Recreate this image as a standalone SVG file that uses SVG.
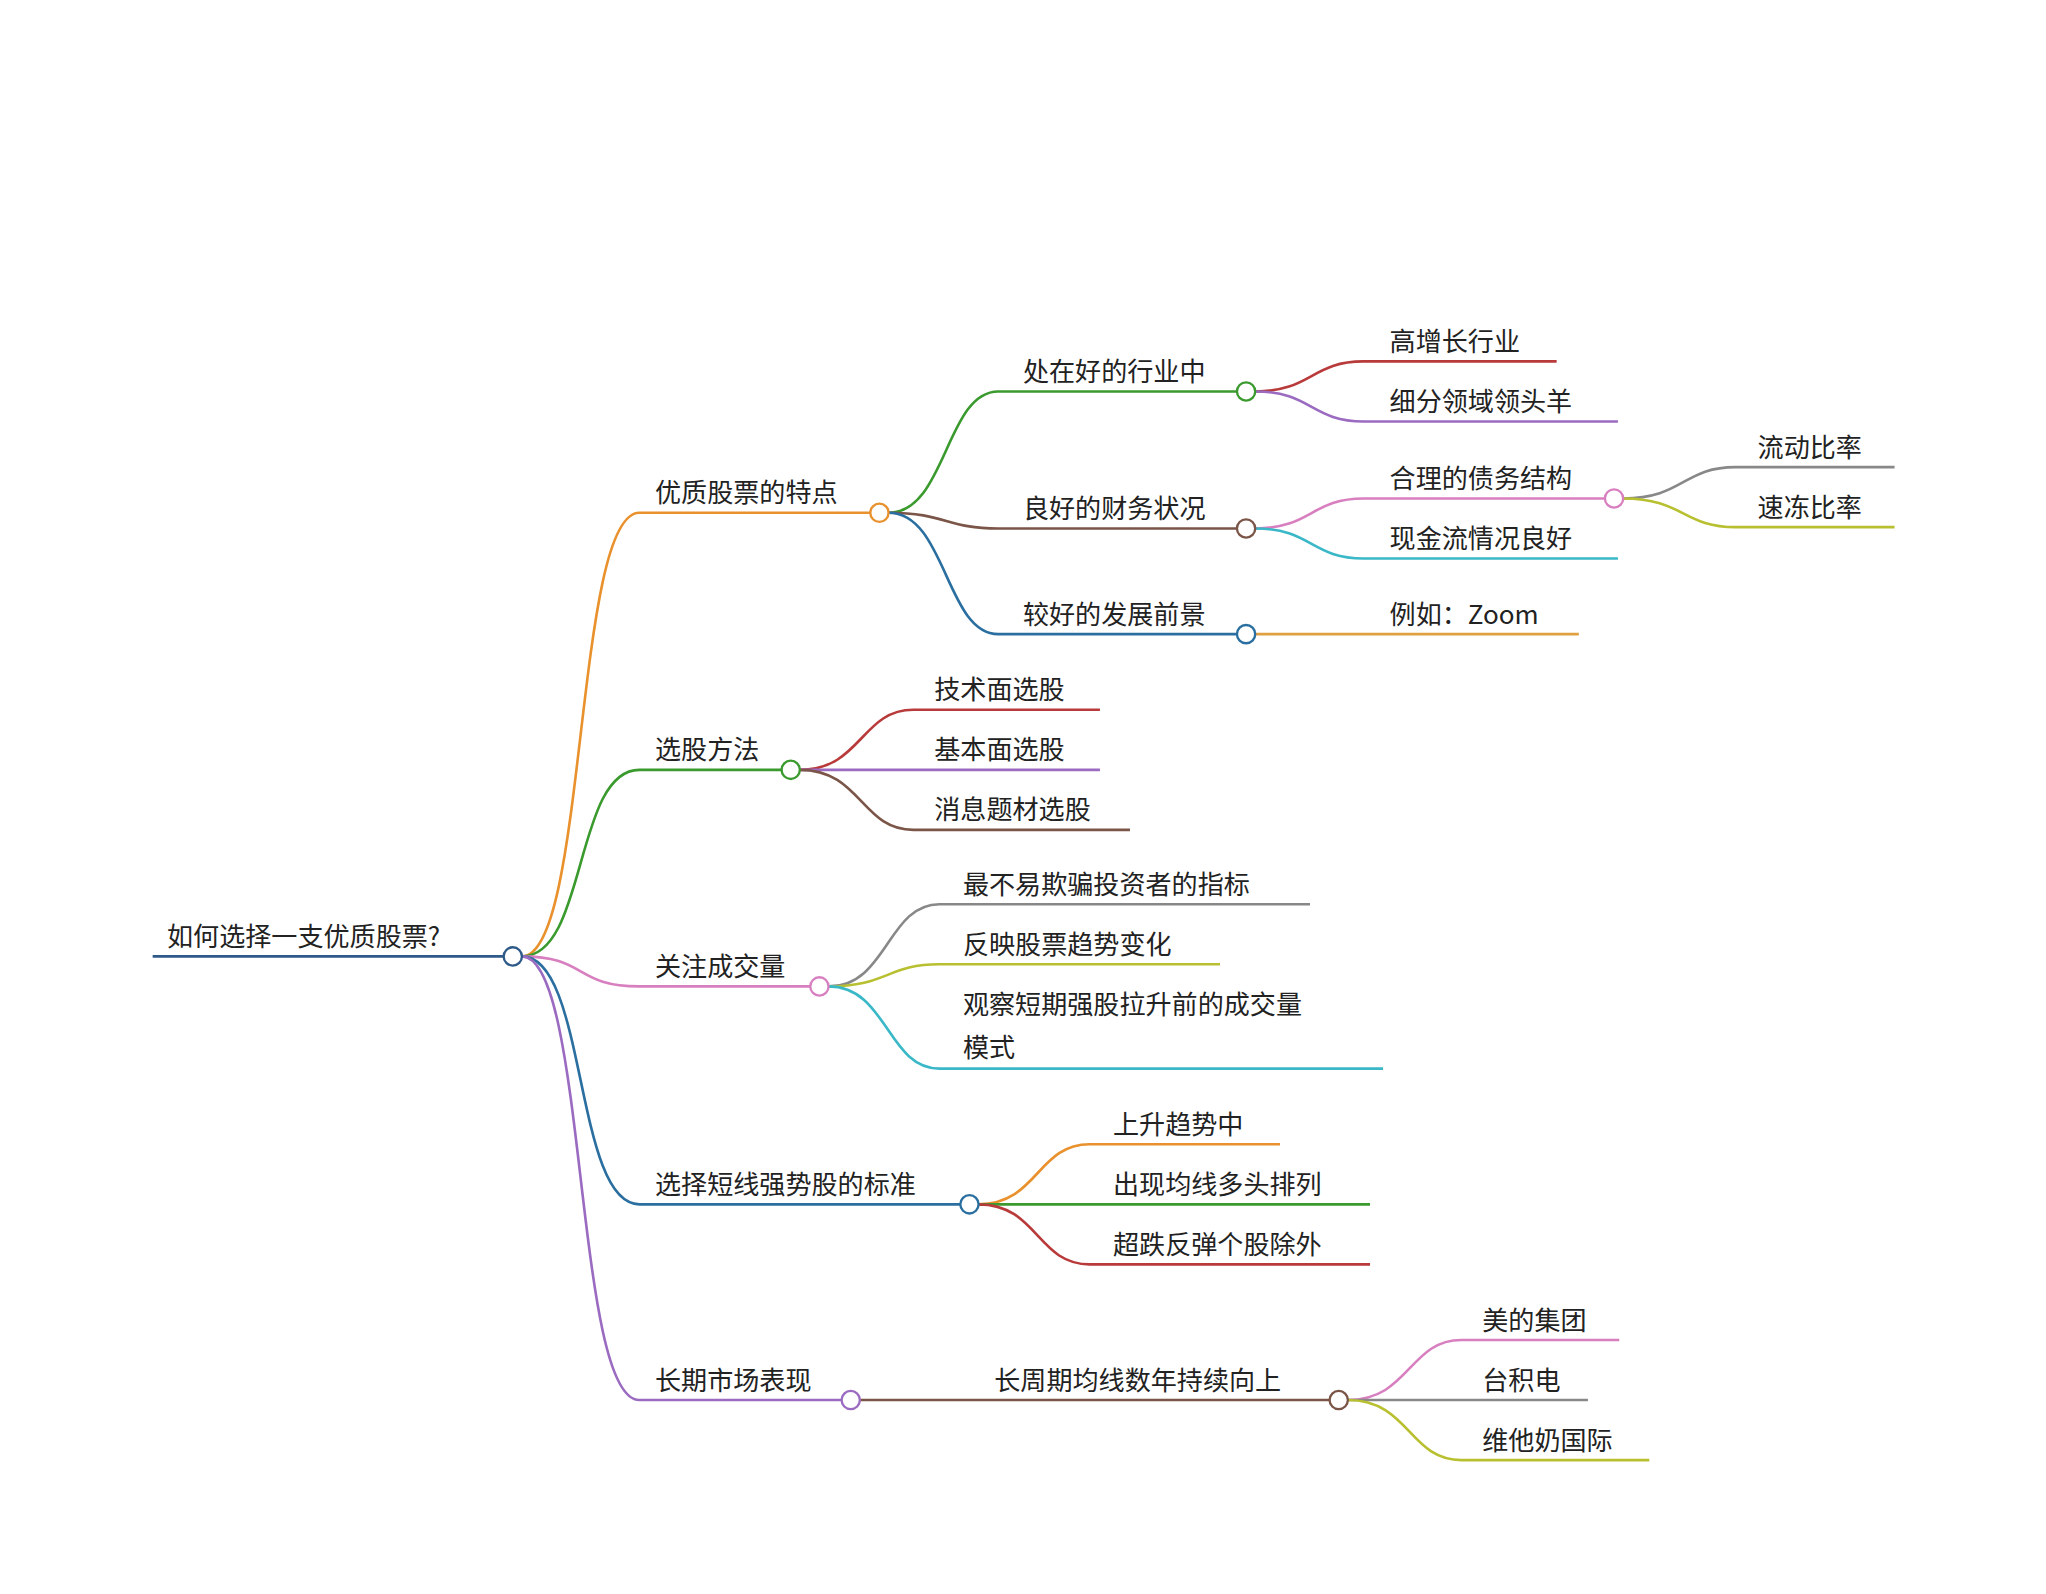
<svg xmlns="http://www.w3.org/2000/svg" width="2046" height="1594" viewBox="0 0 2046 1594">
<style>
text{font-family:"Noto Sans CJK SC","Noto Sans",sans-serif;font-size:20px;fill:#222}
path,line{fill:none;stroke-width:2}
circle{fill:#fff;stroke-width:1.8}
</style>
<rect width="2046" height="1594" fill="#fff"/>
<g transform="scale(1.3048)">
<g id="connectors">
<line x1="117" y1="733" x2="386" y2="733" stroke="#2e5a8a"/>
<path d="M400 733 C450 733 440 393 490 393 H667" stroke="#e8912d"/>
<path d="M400 733 C450 733 440 590 490 590 H599" stroke="#3a9a2e"/>
<path d="M400 733 C450 733 440 756 490 756 H621" stroke="#d87fc0"/>
<path d="M400 733 C450 733 440 923 490 923 H736" stroke="#2a6fa0"/>
<path d="M400 733 C450 733 440 1073 490 1073 H645" stroke="#9a6bc0"/>
<path d="M681 393 C725 393 725 300 765 300 H948" stroke="#3a9a2e"/>
<path d="M681 393 C725 393 725 405 765 405 H948" stroke="#7a5548"/>
<path d="M681 393 C725 393 725 486 765 486 H948" stroke="#2a6fa0"/>
<path d="M962 300 C1005 300 1005 277 1045 277 H1193" stroke="#b83a3a"/>
<path d="M962 300 C1005 300 1005 323 1045 323 H1240" stroke="#9a6bc0"/>
<path d="M962 405 C1005 405 1005 382 1045 382 H1230" stroke="#d87fc0"/>
<path d="M962 405 C1005 405 1005 428 1045 428 H1240" stroke="#3ab8c8"/>
<path d="M962 486 H1210" stroke="#e0a040"/>
<path d="M1244 382 C1290 382 1290 358 1330 358 H1452" stroke="#888"/>
<path d="M1244 382 C1290 382 1290 404 1330 404 H1452" stroke="#b8c030"/>
<path d="M613 590 C660 590 660 544 700 544 H843" stroke="#b83a3a"/>
<path d="M613 590 H843" stroke="#9a6bc0"/>
<path d="M613 590 C660 590 660 636 700 636 H866" stroke="#7a5548"/>
<path d="M635 756 C680 756 680 693 720 693 H1004" stroke="#888"/>
<path d="M635 756 C680 756 680 739 720 739 H935" stroke="#b8c030"/>
<path d="M635 756 C680 756 680 819 720 819 H1060" stroke="#3ab8c8"/>
<path d="M750 923 C795 923 795 877 835 877 H981" stroke="#e8912d"/>
<path d="M750 923 H1050" stroke="#3a9a2e"/>
<path d="M750 923 C795 923 795 969 835 969 H1050" stroke="#b83a3a"/>
<path d="M659 1073 H1019" stroke="#7a5548"/>
<path d="M1033 1073 C1080 1073 1080 1027 1120 1027 H1241" stroke="#d87fc0"/>
<path d="M1033 1073 H1217" stroke="#888"/>
<path d="M1033 1073 C1080 1073 1080 1119 1120 1119 H1264" stroke="#b8c030"/>
</g>
<g id="root"><text x="128" y="725">如何选择一支优质股票?</text><circle cx="393" cy="733" r="7" stroke="#2e5a8a"/></g>
<g id="n1"><text x="502" y="385">优质股票的特点</text><circle cx="674" cy="393" r="7" stroke="#e8912d"/></g>
<g id="n2"><text x="502" y="582">选股方法</text><circle cx="606" cy="590" r="7" stroke="#3a9a2e"/></g>
<g id="n3"><text x="502" y="748">关注成交量</text><circle cx="628" cy="756" r="7" stroke="#d87fc0"/></g>
<g id="n4"><text x="502" y="915">选择短线强势股的标准</text><circle cx="743" cy="923" r="7" stroke="#2a6fa0"/></g>
<g id="n5"><text x="502" y="1065">长期市场表现</text><circle cx="652" cy="1073" r="7" stroke="#9a6bc0"/></g>
<g id="n11"><text x="784" y="292">处在好的行业中</text><circle cx="955" cy="300" r="7" stroke="#3a9a2e"/></g>
<g id="n12"><text x="784" y="397">良好的财务状况</text><circle cx="955" cy="405" r="7" stroke="#7a5548"/></g>
<g id="n13"><text x="784" y="478">较好的发展前景</text><circle cx="955" cy="486" r="7" stroke="#2a6fa0"/></g>
<g id="n111"><text x="1065" y="269">高增长行业</text></g>
<g id="n112"><text x="1065" y="315">细分领域领头羊</text></g>
<g id="n121"><text x="1065" y="374">合理的债务结构</text><circle cx="1237" cy="382" r="7" stroke="#d87fc0"/></g>
<g id="n122"><text x="1065" y="420">现金流情况良好</text></g>
<g id="n131"><text x="1065" y="478">例如：Zoom</text></g>
<g id="n1211"><text x="1347" y="350">流动比率</text></g>
<g id="n1212"><text x="1347" y="396">速冻比率</text></g>
<g id="n21"><text x="716" y="536">技术面选股</text></g>
<g id="n22"><text x="716" y="582">基本面选股</text></g>
<g id="n23"><text x="716" y="628">消息题材选股</text></g>
<g id="n31"><text x="738" y="685">最不易欺骗投资者的指标</text></g>
<g id="n32"><text x="738" y="731">反映股票趋势变化</text></g>
<g id="n33"><text x="738" y="777">观察短期强股拉升前的成交量</text><text x="738" y="810">模式</text></g>
<g id="n41"><text x="853" y="869">上升趋势中</text></g>
<g id="n42"><text x="853" y="915">出现均线多头排列</text></g>
<g id="n43"><text x="853" y="961">超跌反弹个股除外</text></g>
<g id="n51"><text x="762" y="1065">长周期均线数年持续向上</text><circle cx="1026" cy="1073" r="7" stroke="#7a5548"/></g>
<g id="n511"><text x="1136" y="1019">美的集团</text></g>
<g id="n512"><text x="1136" y="1065">台积电</text></g>
<g id="n513"><text x="1136" y="1111">维他奶国际</text></g>
</g>
</svg>
